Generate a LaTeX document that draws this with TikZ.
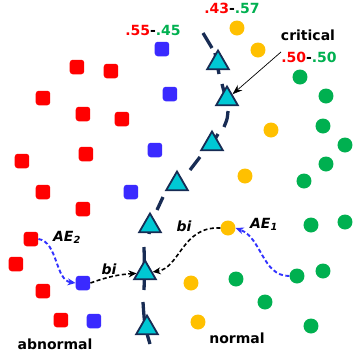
\documentclass[tikz,border=0pt]{standalone}
\usepackage{fontspec}
\setmainfont{DejaVu Sans}
\usetikzlibrary{shapes.geometric,arrows.meta}
\definecolor{cred}{RGB}{255,0,0}
\definecolor{cblue}{RGB}{58,42,255}
\definecolor{cyellow}{RGB}{255,192,0}
\definecolor{cgreen}{RGB}{0,176,80}
\definecolor{ccyan}{RGB}{0,200,212}
\definecolor{cnavy}{RGB}{24,44,84}
\definecolor{carrow}{RGB}{50,50,255}
\begin{document}
\begin{tikzpicture}[x=1pt,y=-1pt,
  sq/.style={rectangle,rounded corners=3pt,minimum size=14.5pt,inner sep=0pt},
  rsq/.style={sq,fill=cred},
  bsq/.style={sq,fill=cblue},
  dot/.style={circle,minimum size=15pt,inner sep=0pt},
  ydot/.style={dot,fill=cyellow},
  gdot/.style={dot,fill=cgreen},
  tri/.style={regular polygon,regular polygon sides=3,minimum size=25pt,inner sep=0pt,
    fill=ccyan,draw=cnavy,line width=1.8pt},
  lbl/.style={font=\fontsize{14}{16}\selectfont\bfseries,inner sep=0pt,anchor=base},
  ilbl/.style={font=\fontsize{14}{16}\selectfont\bfseries\itshape,inner sep=0pt,anchor=base},
  bline/.style={draw=cnavy,line width=3.3pt},
  aearrow/.style={draw=carrow,line width=1.9pt,dash pattern=on 4pt off 2.5pt,-{Stealth[length=8pt,width=7pt]}},
  biarrow/.style={draw=black,line width=1.6pt,dash pattern=on 4pt off 2.5pt,-{Stealth[length=8pt,width=7pt]}}
]
\useasboundingbox (0,0) rectangle (360,354);

% decision boundary (dashes)
\draw[bline] (203,33) -- (212,48);
\draw[bline] (215,53) -- (219,74);
\draw[bline] (222,84) -- (227,103);
\draw[bline] plot[smooth] coordinates {(228,111) (227,119) (224,127)};
\draw[bline] (218,134) -- (211,146);
\draw[bline] (200,157) -- (190,170);
\draw[bline] (181,178) -- (173,189);
\draw[bline] (163,197) -- (157,210);
\draw[bline] (152,218) -- (149,234);
\draw[bline] plot[smooth] coordinates {(144,247) (144.5,270) (144,290)};
\draw[bline] plot[smooth] coordinates {(143,302) (145,325) (150,344)};

% red squares
\node[rsq] (r1) at (77,67) {};
\node[rsq] (r2) at (111,71) {};
\node[rsq] (r3) at (43,98) {};
\node[rsq] (r4) at (83,114) {};
\node[rsq] (r5) at (122,119) {};
\node[rsq] (r6) at (86,154) {};
\node[rsq] (r7) at (22,161) {};
\node[rsq] (r8) at (43,192) {};
\node[rsq] (r9) at (83,209) {};
\node[rsq] (r10) at (31,239) {};
\node[rsq] (r11) at (16,264) {};
\node[rsq] (r12) at (43,291) {};
\node[rsq] (r13) at (61,320) {};

% blue squares
\node[bsq] (b1) at (162,49) {};
\node[bsq] (b2) at (170,94) {};
\node[bsq] (b3) at (155,150) {};
\node[bsq] (b4) at (131,192) {};
\node[bsq] (b5) at (83,283) {};
\node[bsq] (b6) at (94,321) {};

% yellow circles
\node[ydot] (y1) at (237,28) {};
\node[ydot] (y2) at (258,50) {};
\node[ydot] (y3) at (271,130) {};
\node[ydot] (y4) at (245,176) {};
\node[ydot] (y5) at (228,228) {};
\node[ydot] (y6) at (191,283) {};
\node[ydot] (y7) at (198,322) {};

% green circles
\node[gdot] (g1) at (300,77) {};
\node[gdot] (g2) at (326,96) {};
\node[gdot] (g3) at (323,126) {};
\node[gdot] (g4) at (345,145) {};
\node[gdot] (g5) at (326,164) {};
\node[gdot] (g6) at (304,181) {};
\node[gdot] (g7) at (311,225) {};
\node[gdot] (g8) at (345,222) {};
\node[gdot] (g9) at (297,276) {};
\node[gdot] (g10) at (323,271) {};
\node[gdot] (g11) at (236,279) {};
\node[gdot] (g12) at (265,302) {};
\node[gdot] (g13) at (311,326) {};

% triangles on boundary
\node[tri] (t1) at (218,63) {};
\node[tri] (t2) at (227,99) {};
\node[tri] (t3) at (212,144) {};
\node[tri] (t4) at (177,184) {};
\node[tri] (t5) at (150,226) {};
\node[tri] (t6) at (145,273) {};
\node[tri] (t7) at (147,328) {};

% labels
\node[lbl] (p1) at (153,35) {\textcolor{cred}{.55}-\textcolor{cgreen}{.45}};
\node[lbl] (p2) at (232,13) {\textcolor{cred}{.43}-\textcolor{cgreen}{.57}};
\node[lbl] (crit) at (308,40) {critical};
\node[lbl] (p3) at (309,62.5) {\textcolor{cred}{.50}-\textcolor{cgreen}{.50}};
\node[lbl] (abn) at (55,349) {abnormal};
\node[lbl] (nor) at (237,343) {normal};
\node[ilbl] (ae2) at (67,241) {AE\textsubscript{2}};
\node[ilbl] (ae1) at (264,228) {AE\textsubscript{1}};
\node[ilbl] (bi1) at (184,231) {bi};
\node[ilbl] (bi2) at (109,274) {bi};

% connectors
\draw[line width=0.7pt,-{Stealth[length=10pt,width=7pt]}] (p3.north west) -- (t2);
\draw[aearrow] (r10.east) .. controls (58,242) and (55,280) .. (b5.west);
\draw[aearrow] (g9.west) .. controls (262,276) and (262,238) .. (y5.east);
\draw[biarrow] (y5.west) .. controls (182,226) and (180,268) .. (t6);
\draw[biarrow] (b5.east) to[bend left=8] (t6);
\end{tikzpicture}
\end{document}
